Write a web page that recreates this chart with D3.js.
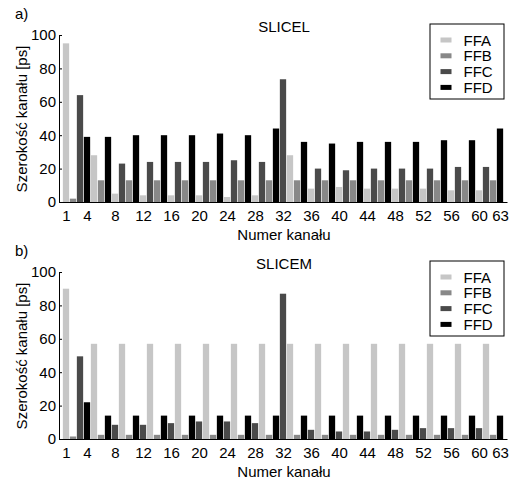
<!DOCTYPE html>
<html>
<head>
<meta charset="utf-8">
<script src="https://cdn.jsdelivr.net/npm/d3@7"></script>
<style>
	body { margin: 0; background: white; }
	text { font-family: "Liberation Sans", Arial, sans-serif; }
</style>
</head>
<body>
<div id="viz"></div>
<script>
// channel numbers 1..63, one bar per channel
let channels = d3.range(1, 64);
let xTicks = [1, 4, 8, 12, 16, 20, 24, 28, 32, 36, 40, 44, 48, 52, 56, 60, 63];
let yTicks = [0, 20, 40, 60, 80, 100];
let seriesNames = ["FFA", "FFB", "FFC", "FFD"];

// flip-flop type used by each channel (SLICEL)
let typesA = [
	"A","B","C","D","A","B",
	"D","A","C","B", "D","A","C","B", "D","A","C","B",
	"D","A","C","B", "D","A","C","B", "D","A","C","B",
	"D","C","A","B",
	"D","A","C","B", "D","A","C","B", "D","A","C","B", "D","A","C","B",
	"D","A","C","B", "D","A","C","B", "D","A","C","B",
	"D"
];
let valuesA = [
	95, 2, 64, 39, 28, 13,
	39, 5, 23, 13,
	40, 4, 24, 13,
	40, 4, 24, 13,
	40, 4, 24, 13,
	41, 3, 25, 13,
	40, 4, 24, 13,
	44, 73.5, 28, 13,
	36, 8, 20, 13,
	35, 9, 19, 13,
	36, 8, 20, 13,
	36, 8, 20, 13,
	36, 8, 20, 13,
	37, 7, 21, 13,
	37, 7, 21, 13,
	44
];

// SLICEM
let typesB = [
	"A","B","C","D","A","B",
	"D","C","A","B", "D","C","A","B", "D","C","A","B", "D","C","A","B",
	"D","C","A","B", "D","C","A","B", "D","C","A","B", "D","C","A","B",
	"D","C","A","B", "D","C","A","B", "D","C","A","B", "D","C","A","B",
	"D","C","A","B", "D","C","A","B",
	"D"
];
let valuesB = [
	90, 1.5, 49.5, 22, 57, 2.5,
	14, 8.5, 57, 2.5,
	14, 8.5, 57, 2.5,
	14, 9.5, 57, 2.5,
	14, 10.5, 57, 2.5,
	14, 10.5, 57, 2.5,
	14, 9.5, 57, 2.5,
	14, 87, 57, 2.5,
	14, 5.5, 57, 2.5,
	14, 4.5, 57, 2.5,
	14, 4.5, 57, 2.5,
	14, 5.5, 57, 2.5,
	14, 6.5, 57, 2.5,
	14, 6.5, 57, 2.5,
	14, 6.5, 57, 2.5,
	14
];

let colors = {"FFA": "#c6c6c6", "FFB": "#888888", "FFC": "#4a4a4a", "FFD": "#000000"};

let svg = d3.select("#viz").append("svg")
	.attr("width", 518).attr("height", 481);

svg.append("rect")
	.attr("width", 518).attr("height", 481)
	.style("fill", "white");

let x = d3.scaleLinear().domain([0, 64]).range([59, 507]);
let barW = 6.3;

function drawPanel(top, letter, title, types, values) {
	let bottom = top + 167;
	let y = d3.scaleLinear().domain([0, 100]).range([bottom, top]);
	let g = svg.append("g");

	let data = channels.map((c, i) => ({ch: c, type: "FF" + types[i], v: values[i]}));

	g.selectAll("rect.bar").data(data).enter().append("rect")
		.attr("class", "bar")
		.attr("x", d => x(d.ch) - barW / 2)
		.attr("y", d => y(d.v))
		.attr("width", barW)
		.attr("height", d => y(0) - y(d.v))
		.style("fill", d => colors[d.type]);

	let yAxis = d3.axisLeft(y).tickValues(yTicks)
		.tickSizeInner(-3).tickSizeOuter(0).tickPadding(3);
	let xAxis = d3.axisBottom(x).tickValues(xTicks)
		.tickSizeInner(0).tickSizeOuter(0).tickPadding(8);

	g.append("g").attr("transform", "translate(" + x(0) + ",0)").call(yAxis);
	g.append("g").attr("transform", "translate(0," + bottom + ")").call(xAxis);
	g.selectAll(".tick text").style("font-size", "15px").style("fill", "black")
		.style("font-family", "'Liberation Sans', Arial, sans-serif");
	g.selectAll(".domain, .tick line").style("stroke", "black");

	// labels
	g.append("text")
		.attr("x", 15).attr("y", top - 16)
		.style("font-size", "15px")
		.text(letter);

	g.append("text")
		.attr("x", 284).attr("y", top - 3.5)
		.attr("text-anchor", "middle")
		.style("font-size", "15px")
		.text(title);

	g.append("text")
		.attr("x", 284).attr("y", bottom + 37.5)
		.attr("text-anchor", "middle")
		.style("font-size", "15px")
		.text("Numer kanału");

	g.append("text")
		.attr("transform", "translate(26.5," + (top + 84) + ") rotate(-90)")
		.attr("text-anchor", "middle")
		.style("font-size", "15px")
		.text("Szerokość kanału [ps]");

	// legend
	let lg = g.append("g").attr("transform", "translate(430," + (top - 11) + ")");
	lg.append("rect")
		.attr("width", 74).attr("height", 75)
		.style("fill", "white").style("stroke", "black").style("stroke-width", 1);
	seriesNames.forEach((s, i) => {
		lg.append("rect")
			.attr("x", 10.5).attr("y", 13.5 + i * 15.8)
			.attr("width", 11).attr("height", 5)
			.style("fill", colors[s]);
		lg.append("text")
			.attr("x", 33.5).attr("y", 21.5 + i * 15.8)
			.style("font-size", "15px")
			.text(s);
	});
}

drawPanel(35, "a)", "SLICEL", typesA, valuesA);
drawPanel(272, "b)", "SLICEM", typesB, valuesB);
</script>
</body>
</html>
